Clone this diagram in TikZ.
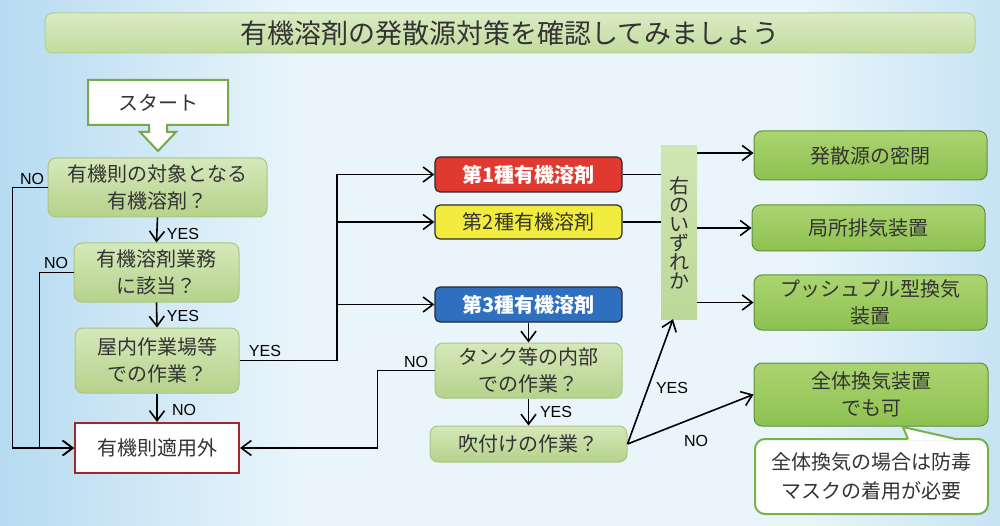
\documentclass[tikz,border=0pt]{standalone}
\usepackage{fontspec}
\setmainfont{Noto Sans CJK JP}
\newfontfamily\lat{Liberation Sans}
\usetikzlibrary{arrows.meta,calc}
\definecolor{bgL}{HTML}{B6DBF1}
\definecolor{bgM}{HTML}{EAF5FB}
\definecolor{bgR}{HTML}{C6E3F4}
\definecolor{txt}{HTML}{333333}
\definecolor{decT}{HTML}{D6E8BA}
\definecolor{decB}{HTML}{B5D28B}
\definecolor{decD}{HTML}{A8C683}
\definecolor{resT}{HTML}{ABD471}
\definecolor{resB}{HTML}{8DC150}
\definecolor{resD}{HTML}{5F8E3B}
\definecolor{ttlT}{HTML}{DAEBC4}
\definecolor{ttlB}{HTML}{C2DB9D}
\definecolor{ttlD}{HTML}{B3CF8E}
\definecolor{eitT}{HTML}{D0E6B2}
\definecolor{eitB}{HTML}{BCD898}
\definecolor{startD}{HTML}{77A84B}
\definecolor{outD}{HTML}{A0282C}
\definecolor{redF}{HTML}{E03A30}
\definecolor{yelF}{HTML}{F2EC3E}
\definecolor{bluF}{HTML}{2F6FC0}
\definecolor{edgeD}{HTML}{2A2A2A}
\definecolor{callD}{HTML}{7AB04C}
\begin{document}
\begin{tikzpicture}[x=1pt,y=-1pt,
  box/.style={rounded corners=8pt, inner sep=0pt, align=center, text=txt, font=\fontsize{20}{27}\selectfont},
  dec/.style={box, top color=decT, bottom color=decB, draw=decD, line width=1pt},
  res/.style={box, top color=resT, bottom color=resB, draw=resD, line width=1pt},
  kind/.style={box, rounded corners=5pt, draw=edgeD, line width=1.2pt, minimum width=187pt, minimum height=35pt},
  lbl/.style={font=\lat\fontsize{16}{16}\selectfont, text=black, inner sep=0pt},
  conn/.style={line width=1.6pt, draw=black},
  arr/.style={conn, -{Straight Barb[length=10pt,width=15pt,line width=1.6pt]}}
]
\useasboundingbox (0,0) rectangle (1000,526);
% background
\shade[left color=bgL, right color=bgM] (0,0) rectangle (300,526);
\fill[bgM] (299,0) rectangle (801,526);
\shade[left color=bgM, right color=bgR] (800,0) rectangle (1000,526);

% title
\node[box, top color=ttlT, bottom color=ttlB, draw=ttlD, line width=1pt,
      minimum width=930pt, minimum height=40pt, font=\fontsize{27}{27}\selectfont] (title) at (510,33)
  {有機溶剤の発散源対策を確認してみましょう};

% start
\fill[white, draw=startD, line width=2pt, line join=miter]
  (88,80) -- (228,80) -- (228,125) -- (167,125) -- (167,132) -- (176,132) -- (158,151)
  -- (140,132) -- (149,132) -- (149,125) -- (88,125) -- cycle;
\node[box, minimum width=140pt, minimum height=45pt] (start) at (158,102.5) {スタート};

% left column
\node[dec, minimum width=219pt, minimum height=59pt] (q1) at (157.5,187.5) {有機則の対象となる\\有機溶剤？};
\node[dec, minimum width=165pt, minimum height=59pt] (q2) at (156.5,272.5) {有機溶剤業務\\に該当？};
\node[dec, minimum width=164pt, minimum height=65pt] (q3) at (157,360.5) {屋内作業場等\\での作業？};
\node[box, rounded corners=0pt, fill=white, draw=outD, line width=2pt, minimum width=164pt, minimum height=50pt] (out) at (157,448) {有機則適用外};

% middle column
\node[kind, fill=redF, text=white, font=\bfseries\fontsize{20}{20}\selectfont] (red) at (528.5,174.5) {第1種有機溶剤};
\node[kind, fill=yelF, minimum height=34pt, font=\fontsize{20}{20}\selectfont] (yellow) at (528.5,222) {第2種有機溶剤};
\node[kind, fill=bluF, text=white, font=\bfseries\fontsize{20}{20}\selectfont] (blue) at (528.5,304.5) {第3種有機溶剤};
\node[dec, minimum width=187pt, minimum height=55pt] (tank) at (528.5,370.5) {タンク等の内部\\での作業？};
\node[dec, minimum width=197pt, minimum height=36pt] (spray) at (528.5,444) {吹付けの作業？};
\node[box, rounded corners=0pt, top color=eitT, bottom color=eitB, minimum width=36pt, minimum height=173pt,
      font=\fontsize{20}{19}\selectfont] (either) at (679,232.5) {右\\の\\い\\ず\\れ\\か};

% right column
\node[res, minimum width=233pt, minimum height=49pt] (r1) at (870.5,155.5) {発散源の密閉};
\node[res, minimum width=233pt, minimum height=46pt] (r2) at (868.5,228) {局所排気装置};
\node[res, minimum width=233pt, minimum height=55pt] (r3) at (870.5,302.5) {プッシュプル型換気\\装置};
\node[res, minimum width=234pt, minimum height=63pt] (r4) at (871,394.5) {全体換気装置\\でも可};

% callout
\node[box, rounded corners=10pt, fill=white, draw=callD, line width=2pt, minimum width=233pt, minimum height=75pt,
      font=\fontsize{20}{29}\selectfont] (call) at (871.5,476.5) {全体換気の場合は防毒\\マスクの着用が必要};
\coordinate (tip) at (903,427);
\fill[white] ($(call.north)+(36.5,2)$) -- (tip) -- ($(call.north)+(84.5,2)$) -- cycle;
\draw[callD, line width=2pt, line join=miter] ($(call.north)+(36.5,1)$) -- (tip) -- ($(call.north)+(84.5,1)$);

% connectors left
\draw[arr] (q1.west) -- ++(-35,0) |- (out.west);
\draw[arr] (q2.west) -- ++(-34,0) |- (out.west);
\draw[arr] (q1.south) -- (q2.north);
\draw[arr] (q2.south) -- (q3.north);
\draw[arr] (q3.south) -- (out.north);

\coordinate (bx) at (337,0);
\coordinate (y1) at (0,153);
\draw[arr] (q3.east) -| (bx |- red.west) -- (red.west);
\draw[arr] (bx |- yellow.west) -- (yellow.west);
\draw[arr] (bx |- blue.west) -- (blue.west);

\draw[conn] (red.east) -- (either.west |- red.east);
\draw[conn] (yellow.east) -- (either.west |- yellow.east);
\draw[arr] (either.east |- y1) -- (r1.west |- y1);
\draw[arr] (either.east |- r2.west) -- (r2.west);
\draw[arr] (either.east |- r3.west) -- (r3.west);

\draw[arr] (blue.south) -- (tank.north);
\draw[arr] (tank.south) -- (spray.north);
\draw[arr] (tank.west) -- ++(-57,0) |- (out.east);
\draw[arr] (spray.east) -- ([xshift=-6pt]either.south);
\draw[arr] (spray.east) -- (r4.west);

% labels
\node[lbl] (l1) at (32,179) {NO};
\node[lbl] (l2) at (183,234) {YES};
\node[lbl] (l3) at (56,263) {NO};
\node[lbl] (l4) at (183,316) {YES};
\node[lbl] (l5) at (184,410) {NO};
\node[lbl] (l6) at (265,351) {YES};
\node[lbl] (l7) at (416,362) {NO};
\node[lbl] (l8) at (556,412) {YES};
\node[lbl] (l9) at (672,388) {YES};
\node[lbl] (l10) at (696,441) {NO};
\end{tikzpicture}
\end{document}
